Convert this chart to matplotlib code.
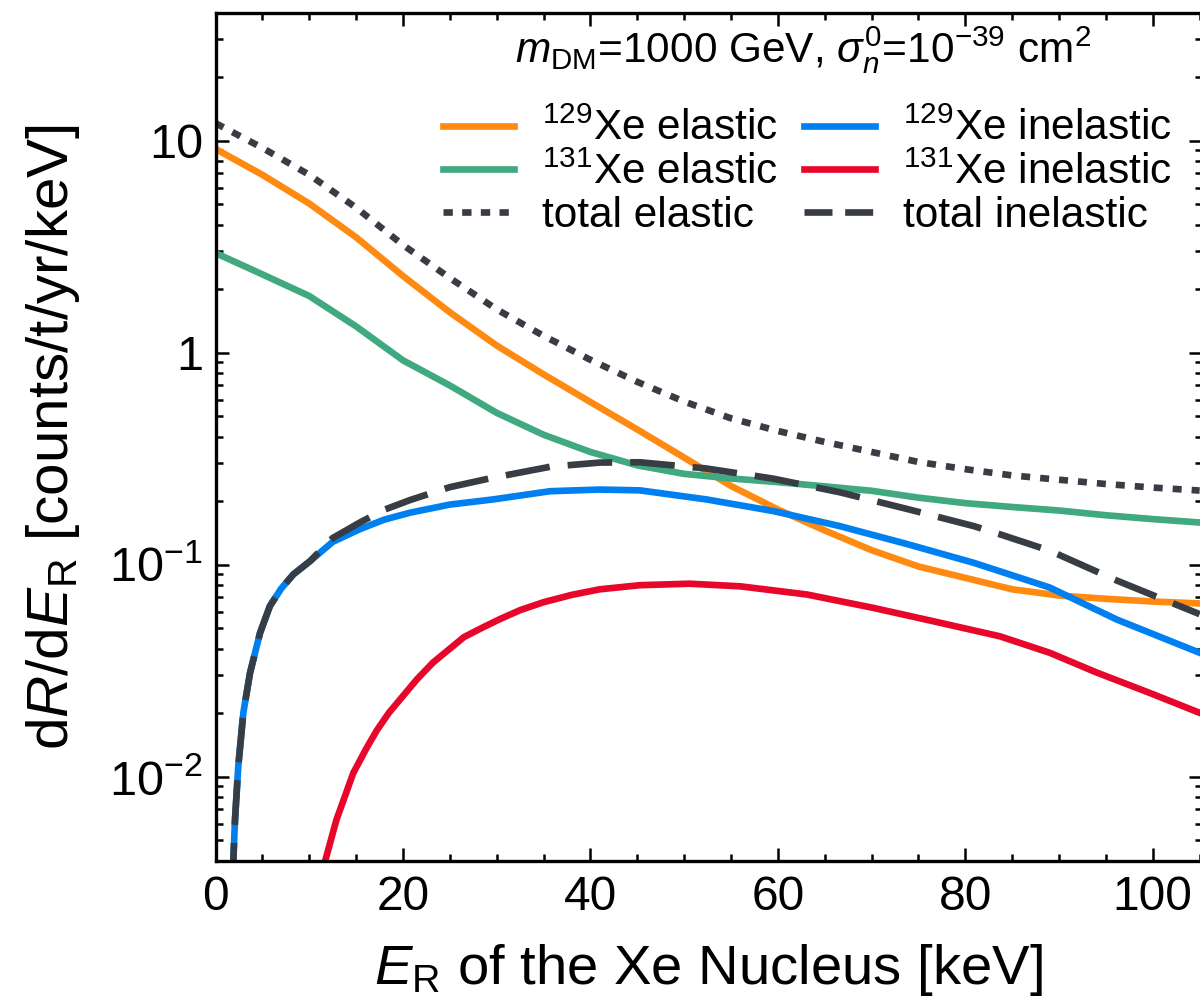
import matplotlib
matplotlib.use("Agg")
import matplotlib.pyplot as plt
from matplotlib.lines import Line2D
from matplotlib.ticker import FixedLocator, MultipleLocator, LogLocator, NullFormatter

# ---------------- data ----------------
E_el = [0, 5, 10, 15, 20, 25, 30, 35, 40, 45, 50, 55, 60, 65, 70, 75, 80, 85, 90, 95, 100, 105]
xe129_elastic = [9.14, 6.9, 5.05, 3.5, 2.3, 1.55, 1.08, 0.79, 0.585, 0.434, 0.32, 0.235, 0.182,
                 0.145, 0.117, 0.098, 0.0866, 0.0765, 0.0715, 0.069, 0.067, 0.0656]
xe131_elastic = [2.95, 2.34, 1.85, 1.33, 0.92, 0.70, 0.52, 0.41, 0.34, 0.294, 0.268, 0.255,
                 0.245, 0.234, 0.223, 0.207, 0.195, 0.187, 0.18, 0.171, 0.164, 0.158]
total_elastic = [12.09, 9.24, 6.9, 4.83, 3.22, 2.25, 1.6, 1.2, 0.925, 0.728, 0.588, 0.49, 0.427,
                 0.379, 0.34, 0.305, 0.282, 0.2635, 0.2515, 0.24, 0.231, 0.2236]

E_in129 = [1.8, 1.9, 2.08, 2.43, 2.97, 3.68, 4.75, 5.8, 7.0, 8.3, 10.1, 12.5, 15.4, 18.0, 20.8,
           25.0, 29.6, 35.7, 41, 45.3, 52.4, 59.5, 66.6, 73.8, 80.9, 83.7, 89, 96.2, 105]
xe129_inelastic = [0.003, 0.004, 0.00625, 0.0112, 0.020, 0.0308, 0.0476, 0.0637, 0.077, 0.0899,
                   0.104, 0.128, 0.147, 0.163, 0.176, 0.192, 0.203, 0.222, 0.226, 0.224, 0.203,
                   0.179, 0.152, 0.125, 0.102, 0.093, 0.078, 0.055, 0.0384]
total_inelastic = [0.003, 0.004, 0.00625, 0.0112, 0.020, 0.0308, 0.0476, 0.0637, 0.077, 0.0899,
                   0.104, 0.1335, 0.158, 0.1815, 0.202, 0.232, 0.257, 0.2895, 0.303, 0.304,
                   0.284, 0.2545, 0.2195, 0.183, 0.152, 0.139, 0.1164, 0.084, 0.0584]

E_in131 = [11.5, 11.7, 12.9, 14.7, 16.1, 17.2, 18.5, 20.0, 21.5, 23.2, 26.5, 28.3, 30.4, 32.5,
           35.0, 38.0, 41.0, 45.3, 50.6, 56.0, 63.1, 70.2, 77.3, 83.7, 89.0, 94.0, 99.7, 105]
xe131_inelastic = [0.0035, 0.004, 0.00625, 0.0104, 0.0136, 0.0165, 0.020, 0.024, 0.0288, 0.0345,
                   0.0455, 0.050, 0.0555, 0.061, 0.0665, 0.072, 0.0765, 0.080, 0.0813, 0.079,
                   0.0723, 0.0625, 0.0532, 0.0459, 0.0384, 0.031, 0.0248, 0.020]

y_ticks = [1e-2, 1e-1, 1, 10]
y_ticklabels = [r"10$^{-2}$", r"10$^{-1}$", "1", "10"]
x_ticks = [0, 20, 40, 60, 80, 100]

labels = [r"$^{129}$Xe elastic", r"$^{131}$Xe elastic", "total elastic",
          r"$^{129}$Xe inelastic", r"$^{131}$Xe inelastic", "total inelastic"]
legend_title = r"$m_{\rm DM}$=1000 GeV, $\sigma_n^0$=10$^{-39}$ cm$^2$"

# ---------------- style ----------------
FONT = "Liberation Sans"
plt.rcParams["font.family"] = [FONT, "DejaVu Sans"]
plt.rcParams["mathtext.fontset"] = "custom"
plt.rcParams["mathtext.rm"] = FONT
plt.rcParams["mathtext.it"] = FONT + ":italic"
plt.rcParams["mathtext.bf"] = FONT + ":bold"
plt.rcParams["mathtext.sf"] = FONT

C_OR = "#ff8a12"
C_GR = "#40a980"
C_BL = "#0080f0"
C_RD = "#e8062a"
C_DK = "#383d45"
LW = 4.8

W, H = 1200, 1001
fig = plt.figure(figsize=(W / 100, H / 100), dpi=100)
ax = fig.add_axes([215.5 / W, (H - 861) / H, (1201.5 - 215.5) / W, (861 - 13) / H])

ax.plot(E_el, xe129_elastic, color=C_OR, lw=LW, solid_joinstyle="round")
ax.plot(E_el, xe131_elastic, color=C_GR, lw=LW, solid_joinstyle="round")
ax.plot(E_in129, xe129_inelastic, color=C_BL, lw=LW, solid_joinstyle="round")
ax.plot(E_in131, xe131_inelastic, color=C_RD, lw=LW, solid_joinstyle="round")
ax.plot(E_el, total_elastic, color=C_DK, lw=LW, dashes=(1.35, 1.5))
ax.plot(E_in129, total_inelastic, color=C_DK, lw=LW, dashes=(6.7, 2.7))

ax.set_yscale("log")
ax.set_xlim(0, 105.2)
ax.set_ylim(4e-3, 40)

ax.xaxis.set_major_locator(FixedLocator(x_ticks))
ax.xaxis.set_minor_locator(MultipleLocator(5))
ax.set_xticklabels([str(v) for v in x_ticks], fontsize=34.5)
ax.yaxis.set_major_locator(FixedLocator(y_ticks))
ax.yaxis.set_minor_locator(LogLocator(base=10, subs=range(2, 10)))
ax.yaxis.set_minor_formatter(NullFormatter())
ax.set_yticklabels(y_ticklabels, fontsize=35)

ax.tick_params(which="both", direction="in", top=True, right=True, width=1.8)
ax.tick_params(which="major", length=9.5)
ax.tick_params(which="minor", length=5)
ax.tick_params(axis="x", which="major", pad=10)
ax.tick_params(axis="y", which="major", pad=9)
for s in ax.spines.values():
    s.set_linewidth(2.4)

ax.set_xlabel(r"$E_{\rm R}$ of the Xe Nucleus [keV]", fontsize=40.5, labelpad=16)
ax.set_ylabel(r"d$R$/d$E_{\rm R}$ [counts/t/yr/keV]", fontsize=42, labelpad=20)

handles = [
    Line2D([], [], color=C_OR, lw=LW),
    Line2D([], [], color=C_GR, lw=LW),
    Line2D([], [], color=C_DK, lw=LW, dashes=(1.4, 1.4)),
    Line2D([], [], color=C_BL, lw=LW),
    Line2D([], [], color=C_RD, lw=LW),
    Line2D([], [], color=C_DK, lw=LW, dashes=(4.2, 1.9)),
]
leg = ax.legend(handles, labels, ncol=2, loc="upper left", frameon=False,
                fontsize=30.5, handlelength=1.675, handletextpad=0.66, columnspacing=0.62,
                labelspacing=0.07, borderpad=0.0, borderaxespad=0.0,
                bbox_to_anchor=((443 - 215.5) / 986, (861 - 109) / 848))

fig.text(803 / W, 1 - 50 / H, legend_title, fontsize=30.5, ha="center", va="center")

fig.savefig("out.png", dpi=100)
